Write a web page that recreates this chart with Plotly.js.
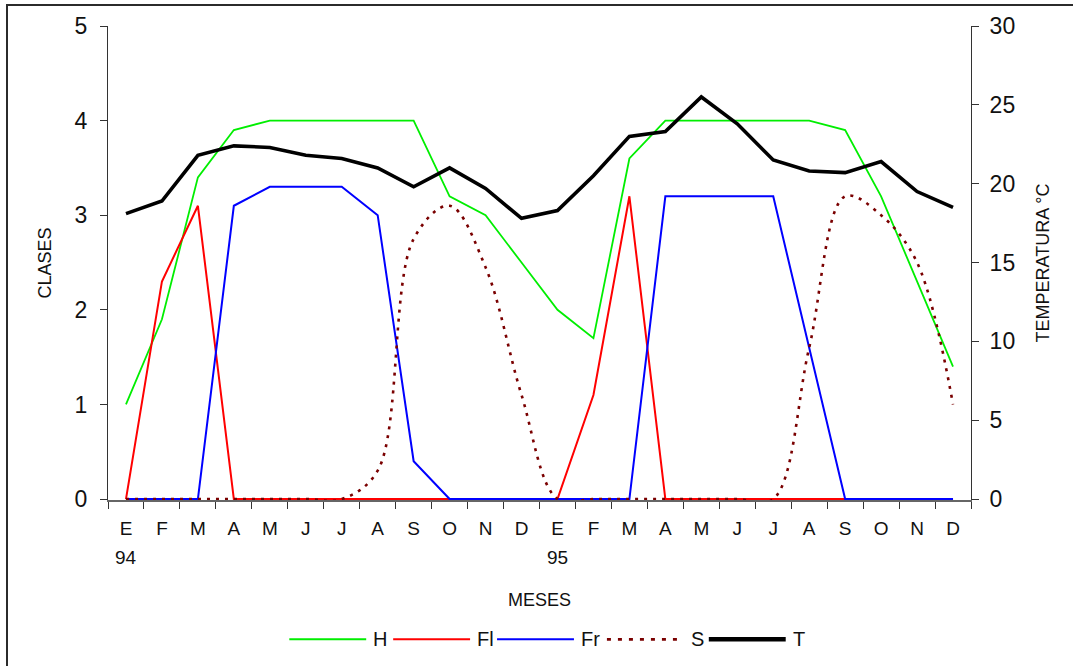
<!DOCTYPE html>
<html>
<head>
<meta charset="utf-8">
<script src="https://cdn.plot.ly/plotly-3.0.1.min.js"></script>
<style>
  html, body { margin: 0; padding: 0; background: #fff; overflow: hidden; }
  #chart { position: absolute; left: 0; top: 0; width: 1073px; height: 666px; }
  #frame { position: absolute; left: 6px; top: 4px; width: 1100px; height: 720px;
           border: 2px solid #2b2b2b; pointer-events: none; }
</style>
</head>
<body>
<div id="chart"></div>
<div id="frame"></div>
<script>
// Months of 1994 and 1995 (Spanish initials)
const MONTHS = ['E','F','M','A','M','J','J','A','S','O','N','D',
                'E','F','M','A','M','J','J','A','S','O','N','D'];
const YEARS = ['94', '95'];
const YEAR_START = [0, 12];          // index of the first month of each year

// Class values (left axis, 0-5)
const H_VALUES  = [1.0, 1.9, 3.4, 3.9, 4.0, 4.0, 4.0, 4.0, 4.0, 3.2, 3.0, 2.5,
                   2.0, 1.7, 3.6, 4.0, 4.0, 4.0, 4.0, 4.0, 3.9, 3.2, 2.3, 1.4];
const FL_VALUES = [0, 2.3, 3.1, 0, 0, 0, 0, 0, 0, 0, 0, 0,
                   0, 1.1, 3.2, 0, 0, 0, 0, 0, 0, 0, 0, 0];
const FR_VALUES = [0, 0, 0, 3.1, 3.3, 3.3, 3.3, 3.0, 0.4, 0, 0, 0,
                   0, 0, 0, 3.2, 3.2, 3.2, 3.2, 1.6, 0, 0, 0, 0];
const S_VALUES  = [0, 0, 0, 0, 0, 0, 0, 0.3, 2.75, 3.1, 2.45, 1.1,
                   0, 0, 0, 0, 0, 0, 0, 1.6, 3.2, 3.0, 2.5, 1.0];
// Mean temperature (right axis, °C)
const T_VALUES  = [18.1, 18.9, 21.8, 22.4, 22.3, 21.8, 21.6, 21.0, 19.8, 21.0, 19.7, 17.8,
                   18.3, 20.5, 23.0, 23.3, 25.5, 23.8, 21.5, 20.8, 20.7, 21.4, 19.5, 18.5];

const SERIES_NAMES = ['H', 'Fl', 'Fr', 'S', 'T'];

const monthIdx = MONTHS.map((_, i) => i);

const SANS = '"Liberation Sans", Arial, sans-serif';

// plot area geometry (px)
const W = 1073, HT = 666;
const ML = 107.5, MR = 101.5, MT = 26, MB = 165.5;
const PW = W - ML - MR, PH = HT - MT - MB;
const px2x = px => (px - ML) / PW;
const py2y = py => (MT + PH - py) / PH;

const styles = [
  { color: '#00ee00', width: 1.8, dash: 'solid', shape: 'linear', axis: 'y'  },
  { color: '#ff0000', width: 2,   dash: 'solid', shape: 'linear', axis: 'y'  },
  { color: '#0000ff', width: 2,   dash: 'solid', shape: 'linear', axis: 'y'  },
  { color: '#7a0000', width: 2.6, dash: '3px,6px', shape: 'spline', axis: 'y' },
  { color: '#000000', width: 3.6, dash: 'solid', shape: 'linear', axis: 'y2' }
];
const seriesValues = [H_VALUES, FL_VALUES, FR_VALUES, S_VALUES, T_VALUES];

const traces = seriesValues.map((vals, i) => ({
  type: 'scatter',
  mode: 'lines',
  name: SERIES_NAMES[i],
  x: monthIdx,
  y: vals,
  xaxis: 'x',
  yaxis: styles[i].axis,
  line: { color: styles[i].color, width: styles[i].width, dash: styles[i].dash,
          shape: styles[i].shape, smoothing: 1 },
  showlegend: false,
  hoverinfo: 'x+y'
}));

// year labels under the January ticks
const annotations = YEARS.map((yr, i) => ({
  x: YEAR_START[i], xref: 'x', y: py2y(558), yref: 'paper',
  text: yr, showarrow: false, xanchor: 'center', yanchor: 'middle',
  font: { family: SANS, size: 19, color: '#111' }
}));

// hand-laid legend row: long line samples followed by the series name
const LEG_LINE_START = [289, 393, 497, 607, 709];
const LEG_LINE_LEN = 77;
const LEG_Y = 640;
const shapes = [];
SERIES_NAMES.forEach((nm, i) => {
  const x0 = LEG_LINE_START[i], x1 = x0 + LEG_LINE_LEN;
  shapes.push({
    type: 'line', xref: 'paper', yref: 'paper',
    x0: px2x(x0), x1: px2x(x1), y0: py2y(LEG_Y), y1: py2y(LEG_Y),
    line: { color: styles[i].color, width: i === 4 ? 4.5 : (i === 3 ? 2.6 : 2),
            dash: i === 3 ? '4px,7px' : 'solid' }
  });
  annotations.push({
    x: px2x(x1 + 5), xref: 'paper', y: py2y(LEG_Y), yref: 'paper',
    text: nm, showarrow: false, xanchor: 'left', yanchor: 'middle',
    font: { family: SANS, size: 20, color: '#111' }
  });
});

const tickCol = '#333';
const layout = {
  width: W, height: HT,
  margin: { l: ML, r: MR, t: MT, b: MB, pad: 0 },
  paper_bgcolor: '#fff', plot_bgcolor: '#fff',
  showlegend: false,
  xaxis: {
    range: [-0.5, 23.5], tickmode: 'array', tickvals: monthIdx, ticktext: MONTHS,
    ticks: '', ticklabelstandoff: 10,
    tickfont: { family: SANS, size: 19, color: '#111' },
    minor: { tickmode: 'linear', tick0: -0.5, dtick: 1, ticks: 'outside',
             ticklen: 7, tickwidth: 1, tickcolor: tickCol, showgrid: false },
    showline: true, linecolor: '#666', linewidth: 2,
    showgrid: false, zeroline: false, layer: 'below traces', automargin: false,
    title: { text: 'MESES', standoff: 56, font: { family: SANS, size: 18, color: '#111' } }
  },
  xaxis2: {
    overlaying: 'x', anchor: 'y', range: [-0.5, 23.5],
    tickmode: 'linear', tick0: -0.5, dtick: 1, ticks: 'inside', ticklen: 7,
    tickwidth: 1, tickcolor: tickCol, showticklabels: false,
    showline: false, showgrid: false, zeroline: false
  },
  yaxis: {
    range: [-0.01, 5], tickmode: 'linear', tick0: 0, dtick: 1,
    ticks: 'outside', ticklen: 7, tickwidth: 1, tickcolor: tickCol,
    ticklabelstandoff: 8,
    tickfont: { family: SANS, size: 23, color: '#111' },
    showline: true, linecolor: tickCol, linewidth: 1,
    showgrid: false, zeroline: false, layer: 'below traces', automargin: false,
    title: { text: 'CLASES', standoff: 18, font: { family: SANS, size: 18, color: '#111' } }
  },
  yaxis2: {
    overlaying: 'y', side: 'right', anchor: 'x',
    range: [-0.06, 30], tickmode: 'linear', tick0: 0, dtick: 5,
    ticks: 'outside', ticklen: 7, tickwidth: 1, tickcolor: tickCol,
    ticklabelstandoff: 6,
    tickfont: { family: SANS, size: 23, color: '#111' },
    showline: true, linecolor: tickCol, linewidth: 1,
    showgrid: false, zeroline: false, layer: 'below traces', automargin: false,
    title: { text: 'TEMPERATURA °C', standoff: 22, font: { family: SANS, size: 18, color: '#111' } }
  },
  yaxis3: {
    overlaying: 'y', side: 'left', anchor: 'x',
    range: [-0.01, 5], tickmode: 'linear', tick0: 0, dtick: 1,
    ticks: 'inside', ticklen: 7, tickwidth: 1, tickcolor: tickCol,
    showticklabels: false, showline: false, showgrid: false, zeroline: false
  },
  yaxis4: {
    overlaying: 'y', side: 'right', anchor: 'x',
    range: [-0.06, 30], tickmode: 'linear', tick0: 0, dtick: 5,
    ticks: 'inside', ticklen: 7, tickwidth: 1, tickcolor: tickCol,
    showticklabels: false, showline: false, showgrid: false, zeroline: false
  },
  annotations: annotations,
  shapes: shapes
};

Plotly.newPlot('chart', traces, layout, { staticPlot: true, displayModeBar: false });
</script>
</body>
</html>
